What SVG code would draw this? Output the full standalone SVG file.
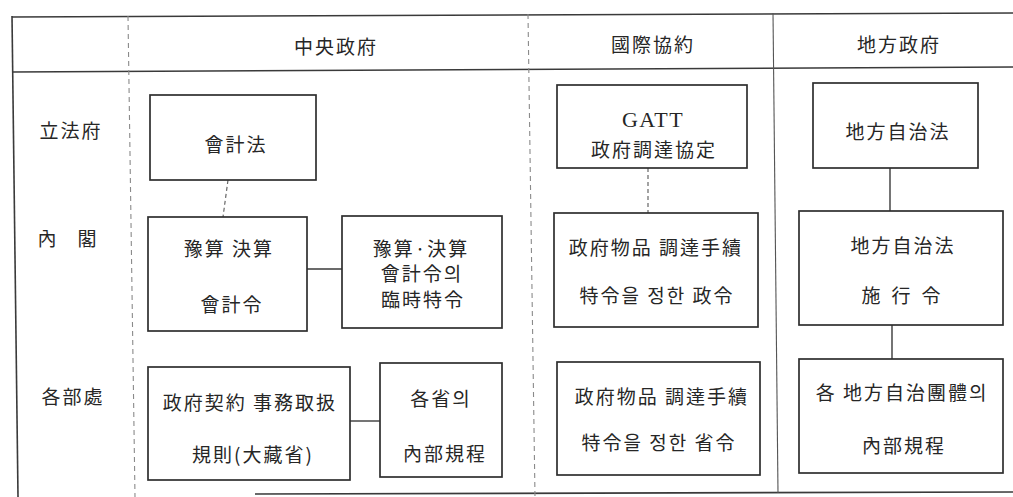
<svg xmlns="http://www.w3.org/2000/svg" width="1013" height="497" viewBox="0 0 1013 497">
<style>
  text { font-family: "Noto Sans CJK KR", "Noto Sans CJK SC", sans-serif; font-size: 19px; fill: #262626; text-anchor: middle; letter-spacing: 2px; }
  .serif { font-family: "Liberation Serif", "Noto Sans CJK KR", serif; font-size: 22px; letter-spacing: 1.5px; }
  .box { fill: #ffffff; stroke: #2e2e2e; stroke-width: 1.7; }
  .frame { stroke: #3a3a3a; stroke-width: 1.6; fill: none; }
  .div { stroke: #8a8a8a; stroke-width: 1.1; stroke-dasharray: 5 4; fill: none; }
  .divs { stroke: #555; stroke-width: 1.1; fill: none; }
  .conn { stroke: #3a3a3a; stroke-width: 1.4; fill: none; }
  .connd { stroke: #666; stroke-width: 1.2; stroke-dasharray: 4 3; fill: none; }
</style>
<rect width="1013" height="497" fill="#ffffff"/>
<g id="frame">
  <line class="frame" x1="12" y1="17" x2="1013" y2="13"/>
  <line class="frame" x1="12" y1="72" x2="1013" y2="67"/>
  <line class="frame" x1="12" y1="16" x2="18" y2="497"/>
  <line class="frame" x1="255" y1="494" x2="1013" y2="492"/>
  <line class="div" x1="128" y1="16" x2="135" y2="497"/>
  <line class="div" x1="528" y1="14" x2="535" y2="497"/>
  <line class="divs" x1="773" y1="13" x2="778" y2="493"/>
</g>
<g id="headers">
  <text x="336" y="54">中央政府</text>
  <text x="653" y="52">國際協約</text>
  <text x="899" y="52">地方政府</text>
</g>
<g id="row-labels">
  <text x="71" y="138">立法府</text>
  <text y="246"><tspan x="48">內</tspan><tspan x="88">閣</tspan></text>
  <text x="73" y="404">各部處</text>
</g>
<g id="connectors">
  <line class="connd" x1="228" y1="180" x2="223" y2="217"/>
  <line class="conn" x1="307" y1="269" x2="342" y2="269"/>
  <line class="conn" x1="350" y1="421" x2="380" y2="421"/>
  <line class="connd" x1="648" y1="168" x2="648" y2="213"/>
  <line class="conn" x1="890" y1="168" x2="890" y2="211"/>
  <line class="conn" x1="892" y1="325" x2="892" y2="359"/>
</g>
<g id="n-accounting-law">
  <rect class="box" x="150" y="95" width="166" height="85"/>
  <text x="236" y="152">會計法</text>
</g>
<g id="n-accounting-decree">
  <rect class="box" x="148" y="217" width="159" height="114"/>
  <text x="229" y="256">豫算 決算</text>
  <text x="232" y="312">會計令</text>
</g>
<g id="n-special-decree">
  <rect class="box" x="342" y="216" width="160" height="112"/>
  <text x="421" y="256">豫算·決算</text>
  <text x="422" y="281">會計令의</text>
  <text x="423" y="307">臨時特令</text>
</g>
<g id="n-contract-rules">
  <rect class="box" x="148" y="367" width="202" height="113"/>
  <text x="250" y="410">政府契約 事務取扱</text>
  <text x="253" y="462">規則(大藏省)</text>
</g>
<g id="n-ministry-rules">
  <rect class="box" x="380" y="363" width="122" height="114"/>
  <text x="441" y="406">各省의</text>
  <text x="445" y="461">內部規程</text>
</g>
<g id="n-gatt">
  <rect class="box" x="557" y="85" width="190" height="83"/>
  <text class="serif" x="653" y="127">GATT</text>
  <text x="654" y="157">政府調達協定</text>
</g>
<g id="n-gov-decree">
  <rect class="box" x="554" y="213" width="204" height="114"/>
  <text x="656" y="255">政府物品 調達手續</text>
  <text x="657" y="303">特令을 정한 政令</text>
</g>
<g id="n-ministry-decree">
  <rect class="box" x="557" y="362" width="203" height="113"/>
  <text x="662" y="404">政府物品 調達手續</text>
  <text x="659" y="450">特令을 정한 省令</text>
</g>
<g id="n-local-law">
  <rect class="box" x="813" y="83" width="165" height="85"/>
  <text x="898" y="139">地方自治法</text>
</g>
<g id="n-local-decree">
  <rect class="box" x="799" y="211" width="204" height="114"/>
  <text x="903" y="253">地方自治法</text>
  <text y="303"><tspan x="872">施</tspan><tspan x="902">行</tspan><tspan x="932">令</tspan></text>
</g>
<g id="n-local-rules">
  <rect class="box" x="799" y="359" width="204" height="114"/>
  <text x="902" y="400">各 地方自治團體의</text>
  <text x="904" y="453">內部規程</text>
</g>
</svg>
